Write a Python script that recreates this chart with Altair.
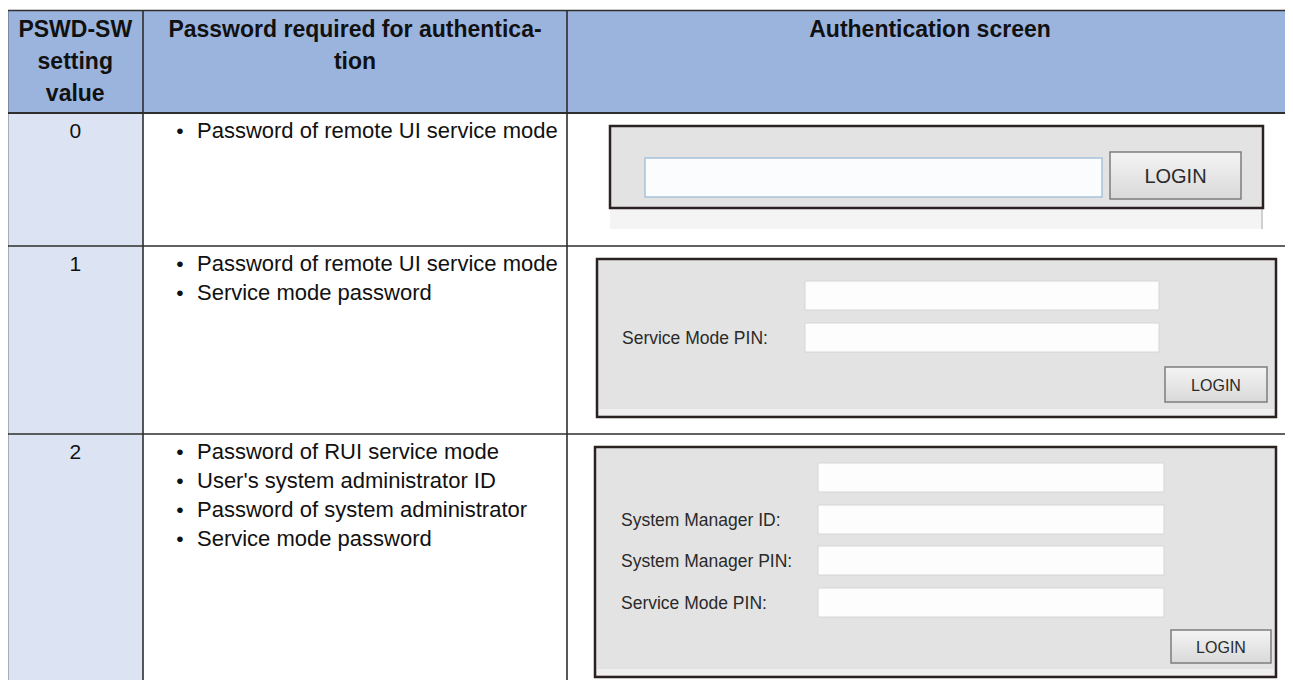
import altair as alt
import pandas as pd

# ---------------- content ----------------
header_col1 = ["PSWD-SW", "setting", "value"]
header_col2 = ["Password required for authentica-", "tion"]
header_col3 = ["Authentication screen"]
setting_values = ["0", "1", "2"]
required_passwords = [
    ["Password of remote UI service mode"],
    ["Password of remote UI service mode", "Service mode password"],
    ["Password of RUI service mode", "User's system administrator ID",
     "Password of system administrator", "Service mode password"],
]
screen_field_labels = [
    [""],
    ["", "Service Mode PIN:"],
    ["", "System Manager ID:", "System Manager PIN:", "Service Mode PIN:"],
]
button_label = "LOGIN"

# ---------------- layout ----------------
PAGE_W, PAGE_H, MARGIN = 1293, 688, 8
col_edges = [7.5, 143, 567, 1293]
row_edges = [10.5, 113, 246, 434, 688]
header_baseline0, header_step = 36.7, 32
body_first_offset, body_step = 25, 29
bullet_x, text_x = 180, 197

# authentication screen mock-ups (x0, x1, y0, y1)
screen_boxes = [(610, 1263, 126, 208), (597, 1276, 259, 417), (595, 1276, 447, 677)]
screen_field_x = [(645, 1102), (805, 1159), (818, 1164)]
screen_field_tops = [[158], [281, 323], [463, 505, 546, 588]]
screen_field_h = [39, 29, 29]
screen_label_x = [0, 622, 621]
screen_buttons = [(1110, 1241, 152, 199), (1165, 1267, 367, 402), (1171, 1271, 630, 663)]
button_font = [20, 16, 16]

FONT = "Liberation Sans"
HEADER_BG = "#9BB4DE"
COL1_BG = "#DCE4F4"
LINE = "#2e2e2e"

# the page keeps an 8px margin on every side, so the drawing spans 8..PAGE-8
VIS_X1, VIS_Y1 = PAGE_W - MARGIN, PAGE_H - MARGIN
xs = alt.Scale(domain=[MARGIN, VIS_X1], nice=False, zero=False)
ys = alt.Scale(domain=[MARGIN, VIS_Y1], nice=False, zero=False, reverse=True)


def X(f="x"):
    return alt.X(f"{f}:Q", scale=xs, axis=None)


def Y(f="y"):
    return alt.Y(f"{f}:Q", scale=ys, axis=None)


# ---------------- rectangles ----------------
rects = []
rects.append(dict(x=col_edges[0], x2=col_edges[-1], y=row_edges[0], y2=row_edges[1],
                  fill=HEADER_BG, stroke="transparent", sw=0))
rects.append(dict(x=col_edges[0], x2=col_edges[1], y=row_edges[1], y2=row_edges[-1],
                  fill=COL1_BG, stroke="transparent", sw=0))
for i, (bx0, bx1, by0, by1) in enumerate(screen_boxes):
    if i == 0:
        rects.append(dict(x=bx0, x2=bx1, y=by1, y2=by1 + 21, fill="#F4F4F4",
                          stroke="transparent", sw=0))
        rects.append(dict(x=bx1 - 2, x2=bx1, y=by1, y2=by1 + 21, fill="#D0D0D0",
                          stroke="transparent", sw=0))
    rects.append(dict(x=bx0, x2=bx1, y=by0, y2=by1, fill="#E3E3E3", stroke="#2A2220", sw=2.5))
    if i > 0:
        rects.append(dict(x=bx0 + 2, x2=bx1 - 2, y=by1 - 8, y2=by1 - 2, fill="#EFEFEF",
                          stroke="transparent", sw=0))
    fx0, fx1 = screen_field_x[i]
    for t in screen_field_tops[i]:
        rects.append(dict(x=fx0, x2=fx1, y=t, y2=t + screen_field_h[i],
                          fill="#FDFDFD" if i else "#FBFCFE",
                          stroke="#A8C2DA" if i == 0 else "#D6D6D6",
                          sw=1.5 if i == 0 else 1))
rect_df = pd.DataFrame(rects)

rect_layer = alt.Chart(rect_df).mark_rect(clip=True).encode(
    x=X("x"), x2="x2", y=Y("y"), y2="y2",
    color=alt.Color("fill:N", scale=None),
    stroke=alt.Stroke("stroke:N", scale=None),
    strokeWidth=alt.StrokeWidth("sw:Q", scale=None),
)

btn_df = pd.DataFrame([dict(x=b[0], x2=b[1], y=b[2], y2=b[3]) for b in screen_buttons])
btn_layer = alt.Chart(btn_df).mark_rect(
    fill=alt.LinearGradient(
        gradient="linear",
        stops=[alt.GradientStop(color="#F4F4F4", offset=0),
               alt.GradientStop(color="#D9D9D9", offset=1)],
        x1=0, x2=0, y1=0, y2=1),
    stroke="#7E7E7E", strokeWidth=1.5,
).encode(x=X("x"), x2="x2", y=Y("y"), y2="y2")

# ---------------- table lines ----------------
lines = []
for yv in row_edges[:-1]:
    lines.append(dict(x=col_edges[0], x2=col_edges[-1], y=yv, y2=yv,
                      w=2 if yv == row_edges[1] else 1.6))
for xv in col_edges[:-1]:
    lines.append(dict(x=xv, x2=xv, y=row_edges[0], y2=row_edges[-1], w=1.6))
line_df = pd.DataFrame(lines)
line_layer = alt.Chart(line_df).mark_rule(color=LINE, clip=True).encode(
    x=X("x"), x2="x2", y=Y("y"), y2="y2",
    strokeWidth=alt.StrokeWidth("w:Q", scale=None),
)

# ---------------- header text ----------------
hdr = []
centers = [(col_edges[i] + col_edges[i + 1]) / 2 for i in range(3)]
for ci, col in enumerate([header_col1, header_col2, header_col3]):
    for li, t in enumerate(col):
        hdr.append(dict(x=centers[ci], y=header_baseline0 + li * header_step, t=t))
hdr_layer = alt.Chart(pd.DataFrame(hdr)).mark_text(
    font=FONT, fontSize=23, fontWeight="bold", align="center",
    baseline="alphabetic", color="#111111",
).encode(x=X(), y=Y(), text="t:N")

# ---------------- body text ----------------
vals = []
bullets = []
items = []
for r, v in enumerate(setting_values):
    top = row_edges[r + 1]
    base = top + body_first_offset
    vals.append(dict(x=centers[0], y=base, t=v))
    for li, t in enumerate(required_passwords[r]):
        bullets.append(dict(x=bullet_x, y=base + li * body_step, t="•"))
        items.append(dict(x=text_x, y=base + li * body_step, t=t))

val_layer = alt.Chart(pd.DataFrame(vals)).mark_text(
    font=FONT, fontSize=21, align="center", baseline="alphabetic", color="#111111"
).encode(x=X(), y=Y(), text="t:N")
bullet_layer = alt.Chart(pd.DataFrame(bullets)).mark_text(
    font=FONT, fontSize=21, align="center", baseline="alphabetic", color="#111111"
).encode(x=X(), y=Y(), text="t:N")
item_layer = alt.Chart(pd.DataFrame(items)).mark_text(
    font=FONT, fontSize=22, align="left", baseline="alphabetic", color="#111111"
).encode(x=X(), y=Y(), text="t:N")

# ---------------- screen labels ----------------
labs = []
for i, lab_list in enumerate(screen_field_labels):
    for j, t in enumerate(lab_list):
        if t:
            top = screen_field_tops[i][j]
            labs.append(dict(x=screen_label_x[i], y=top + screen_field_h[i] / 2 + 1, t=t))
lab_layer = alt.Chart(pd.DataFrame(labs)).mark_text(
    font=FONT, fontSize=17.5, align="left", baseline="middle", color="#2A2A2A"
).encode(x=X(), y=Y(), text="t:N")

btxt = []
for i, (bx0, bx1, by0, by1) in enumerate(screen_buttons):
    btxt.append(dict(x=(bx0 + bx1) / 2, y=(by0 + by1) / 2 + 1, t=button_label, fs=button_font[i]))
btxt_layer = alt.Chart(pd.DataFrame(btxt)).mark_text(
    font=FONT, align="center", baseline="middle", color="#2A2A2A"
).encode(x=X(), y=Y(), text="t:N", size=alt.Size("fs:Q", scale=None))

chart = alt.layer(
    rect_layer, btn_layer, line_layer, hdr_layer, val_layer, bullet_layer,
    item_layer, lab_layer, btxt_layer,
).properties(
    width=VIS_X1 - MARGIN, height=VIS_Y1 - MARGIN,
    autosize=alt.AutoSizeParams(type="none"), padding=0,
).configure_view(stroke=None)

chart.save("out.html", embed_options={"renderer": "svg", "actions": False})
